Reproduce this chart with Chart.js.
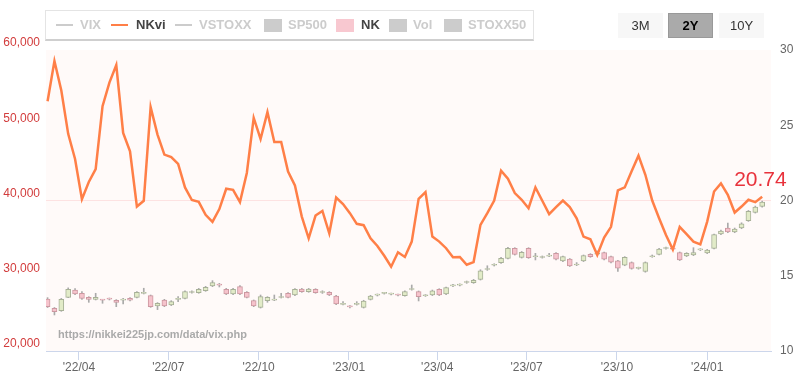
<!DOCTYPE html>
<html>
<head>
<meta charset="utf-8">
<script src="https://cdn.jsdelivr.net/npm/chart.js@4.4.1/dist/chart.umd.min.js"></script>
<style>
  body { margin: 0; background: #fff; font-family: Arial, "Liberation Sans", sans-serif; }
  #wrap { position: relative; width: 797px; height: 372px; overflow: hidden; }
  #chart { position: absolute; left: 0; top: 0; }
  .legend { position: absolute; left: 45px; top: 10px; width: 489px; height: 31px; box-sizing: border-box;
    background: #fff; border: 1px solid #e4e4e4; border-bottom: 2px solid #cfcfcf; }
  .legend span { position: absolute; }
  .txt { top: 0; line-height: 28px; font-size: 13px; font-weight: bold; color: #cccccc; white-space: nowrap; }
  .txt.on { color: #444; }
  .ln { top: 13px; height: 2px; width: 17px; background: #cccccc; }
  .bx { top: 8px; height: 13px; width: 18px; background: #cccccc; }
  .btn { position: absolute; top: 13px; width: 45px; height: 25px; line-height: 25px; text-align: center;
    font-size: 13px; color: #333; background: #f7f7f7; box-sizing: border-box; }
  .btn.sel { background: #aaaaaa; border: 1px solid #999; line-height: 23px; font-weight: bold; color: #000; }
</style>
</head>
<body>
<div id="wrap">
  <canvas id="chart" width="797" height="372"></canvas>
  <div class="legend">
    <span class="ln" style="left:10px"></span><span class="txt" style="left:34px">VIX</span>
    <span class="ln" style="left:65px;background:#ff7f47"></span><span class="txt on" style="left:90px">NKvi</span>
    <span class="ln" style="left:129px"></span><span class="txt" style="left:153px">VSTOXX</span>
    <span class="bx" style="left:218px"></span><span class="txt" style="left:242px">SP500</span>
    <span class="bx" style="left:290px;background:#f8c8d0"></span><span class="txt on" style="left:315px">NK</span>
    <span class="bx" style="left:343px"></span><span class="txt" style="left:367px">Vol</span>
    <span class="bx" style="left:398px"></span><span class="txt" style="left:422px">STOXX50</span>
  </div>
  <div class="btn" style="left:618px">3M</div>
  <div class="btn sel" style="left:668px">2Y</div>
  <div class="btn" style="left:719px">10Y</div>
</div>
<script>
// weekly data, first week starts 2022-02-28
const firstWeek = "2022-02-28";

const nkviValues = [
  26.6, 29.27, 27.31, 24.43, 22.76, 20.09, 21.23, 22.09, 26.27, 27.83,
  29.0, 24.49, 23.27, 19.6, 19.98, 26.2, 24.38, 23.05, 22.89, 22.43,
  20.87, 20.03, 19.91, 19.05, 18.58, 19.43, 20.78, 20.71, 19.89, 21.83,
  25.49, 24.09, 25.87, 23.89, 23.89, 21.93, 21.0, 18.93, 17.49, 19.0,
  19.31, 17.82, 20.2, 19.76, 19.16, 18.45, 18.36, 17.49, 16.98, 16.33,
  15.6, 16.56, 16.25, 17.27, 20.11, 20.56, 17.6, 17.27, 16.83, 16.23,
  16.25, 15.73, 15.91, 18.38, 19.16, 20.0, 21.98, 21.45, 20.49, 20.05,
  19.49, 20.87, 19.98, 19.09, 19.56, 20.0, 19.56, 18.82, 17.6, 17.42,
  16.38, 17.54, 18.25, 20.67, 20.87, 21.94, 22.98, 21.71, 20.0, 18.82,
  17.71, 16.74, 18.25, 17.76, 17.27, 17.09, 18.6, 20.6, 21.14, 20.38,
  19.2, 19.6, 20.05, 19.89, 20.25
];

const nkOpen = [
  26910, 25670, 25360, 27130, 28110, 27670, 27130, 26870, 26800, 26930,
  26740, 26760, 27000, 27130, 27650, 27360, 25980, 26780, 26120, 26850,
  27000, 27780, 27760, 28010, 28640, 28790, 28190, 27580, 28550, 27800,
  26690, 25800, 26690, 26760, 27110, 27670, 27440, 28230, 27890, 28190,
  27780, 27800, 27310, 26190, 25910, 26190, 25800, 26870, 27420, 27650,
  27560, 27460, 27360, 28170, 27890, 27340, 27440, 28190, 27580, 28660,
  28750, 29100, 29080, 29520, 30830, 31400, 31730, 32310, 33640, 32440,
  33640, 32520, 32430, 32610, 32990, 31970, 32200, 31430, 31970, 32850,
  32870, 33070, 32540, 31970, 31420, 31750, 30980, 30560, 32520, 32850,
  33620, 33580, 33070, 32630, 32760, 33440, 33030, 33640, 35550, 36340,
  35810, 36340, 37310, 38420, 39220
];
const nkClose = [
  25890, 25230, 26870, 28190, 27580, 27000, 26870, 27130, 26760, 26890,
  26470, 26800, 26740, 27800, 27690, 25890, 26340, 25980, 26560, 26890,
  27890, 27820, 28190, 28460, 29080, 28750, 27580, 28190, 27580, 27130,
  25980, 27220, 27130, 26800, 27150, 27130, 28190, 27890, 28230, 27760,
  27820, 27440, 26250, 26230, 25870, 26230, 26650, 27310, 27460, 27690,
  27600, 27420, 27890, 28210, 27220, 27380, 28010, 27440, 28420, 28700,
  28790, 29140, 29390, 30670, 30870, 31440, 32310, 33640, 32840, 33100,
  32400, 32560, 32470, 32650, 32200, 32540, 31320, 31470, 32670, 32540,
  32910, 32200, 31790, 31000, 32450, 30960, 31020, 31750, 32560, 33560,
  33660, 33540, 32110, 32980, 33070, 33480, 33420, 35460, 35940, 35810,
  36210, 36910, 38550, 39130, 39790
];
const nkHigh = [
  27090, 25780, 26990, 28390, 28280, 27890, 27220, 27670, 26870, 27040,
  26830, 27000, 27090, 27890, 28340, 27440, 26430, 26870, 26690, 27220,
  28010, 28010, 28320, 28590, 29350, 28990, 28320, 28320, 28680, 27890,
  26780, 27440, 27220, 27440, 27670, 27760, 28280, 28320, 28320, 28280,
  28010, 27890, 27400, 26560, 26030, 26560, 26740, 27400, 27580, 27800,
  27710, 27580, 27980, 28770, 27980, 27490, 28100, 28280, 28510, 28860,
  28930, 29300, 29520, 30800, 31330, 31600, 32440, 33770, 33730, 33230,
  33730, 32980, 32630, 32980, 33080, 32630, 32290, 31750, 32760, 32940,
  33290, 33160, 32630, 32060, 32540, 31840, 31150, 31840, 32760, 33650,
  33800, 33690, 33160, 33070, 33730, 33600, 33510, 35550, 36080, 37000,
  36340, 37040, 38680, 39260, 39920
];
const nkLow = [
  25780, 24790, 25270, 27090, 27490, 26870, 26470, 26780, 26340, 26780,
  25890, 26250, 26650, 27040, 27580, 25800, 25500, 25890, 26030, 26560,
  26910, 27670, 27670, 27930, 28550, 28510, 27490, 27490, 27490, 27040,
  25890, 25710, 26470, 26690, 27040, 27040, 27360, 27800, 27800, 27670,
  27650, 27360, 26160, 26120, 25710, 26100, 25710, 26780, 27310, 27560,
  27450, 27310, 27270, 28080, 26650, 27250, 27360, 27360, 27490, 28550,
  28640, 28990, 28990, 29430, 30710, 31290, 31640, 32220, 32750, 32350,
  32310, 32100, 32340, 32520, 32110, 31880, 31230, 31340, 31880, 32450,
  32760, 32110, 31700, 30560, 31330, 30870, 30870, 30470, 32450, 32760,
  33520, 33430, 32020, 32540, 32670, 33340, 32940, 33550, 35460, 35720,
  35720, 36250, 37220, 38330, 39130
];

const xTickDates = ["2022-04-01", "2022-07-01", "2022-10-01", "2023-01-01",
  "2023-04-01", "2023-07-01", "2023-10-01", "2024-01-01"];
const xTickLabels = ["'22/04", "'22/07", "'22/10", "'23/01", "'23/04", "'23/07", "'23/10", "'24/01"];
const lastLabel = "20.74";
const sourceText = "https://nikkei225jp.com/data/vix.php";

const DAY = 86400000;
const origin = Date.UTC(2022, 0, 1);
function dayNum(s) {
  const [y, m, d] = s.split("-").map(Number);
  return (Date.UTC(y, m - 1, d) - origin) / DAY;
}
const weekX = nkviValues.map((v, i) => dayNum(firstWeek) + 7 * i);

const upFill = "#e2ebc8", upLine = "#a7b097";
const downFill = "#f6c3cc", downLine = "#cc98a1";
const isUp = (i) => nkClose[i] >= nkOpen[i];

Chart.defaults.font.family = 'Arial, "Liberation Sans", sans-serif';

const plotBg = {
  id: "plotBg",
  beforeDraw(chart) {
    const { ctx, chartArea: a } = chart;
    ctx.save();
    ctx.fillStyle = "#fffaf9";
    ctx.fillRect(a.left, a.top, a.right - a.left, a.bottom - a.top);
    ctx.restore();
  },
  beforeDatasetsDraw(chart) {
    const { ctx, chartArea: a } = chart;
    ctx.save();
    ctx.fillStyle = "#aaaaaa";
    ctx.font = 'bold 11px Arial, "Liberation Sans", sans-serif';
    ctx.textBaseline = "middle";
    ctx.fillText(sourceText, a.left + 12, a.bottom - 16);
    ctx.restore();
  },
  afterDatasetsDraw(chart) {
    const meta = chart.getDatasetMeta(0);
    const p = meta.data[meta.data.length - 1];
    const ctx = chart.ctx;
    ctx.save();
    ctx.fillStyle = "#e8323c";
    ctx.font = '21px Arial, "Liberation Sans", sans-serif';
    ctx.textBaseline = "alphabetic";
    ctx.fillText(lastLabel, p.x - 28, p.y - 11);
    ctx.restore();
  }
};

new Chart(document.getElementById("chart"), {
  type: "line",
  data: {
    datasets: [
      {
        type: "line",
        label: "NKvi",
        yAxisID: "y2",
        data: weekX.map((x, i) => ({ x, y: nkviValues[i] })),
        borderColor: "#ff7f47",
        borderWidth: 2.5,
        pointRadius: 0,
        tension: 0,
        order: 0
      },
      {
        type: "bar",
        label: "NK",
        yAxisID: "y",
        data: weekX.map((x, i) => ({ x, y: [nkOpen[i], nkClose[i]] })),
        backgroundColor: (c) => (isUp(c.dataIndex) ? upFill : downFill),
        borderColor: (c) => (isUp(c.dataIndex) ? upLine : downLine),
        borderWidth: 1,
        borderSkipped: false,
        barThickness: 5,
        minBarLength: 1,
        grouped: false,
        order: 1
      },
      {
        type: "bar",
        label: "NK range",
        yAxisID: "y",
        data: weekX.map((x, i) => ({ x, y: [nkLow[i], nkHigh[i]] })),
        backgroundColor: "#aaaaaa",
        barThickness: 1,
        grouped: false,
        order: 2
      }
    ]
  },
  options: {
    responsive: false,
    animation: false,
    events: [],
    layout: { padding: { top: 50, left: 0, right: 0, bottom: 0 } },
    plugins: { legend: { display: false }, tooltip: { enabled: false } },
    scales: {
      x: {
        type: "linear",
        min: 56.4,
        max: 795,
        offset: false,
        afterFit(s) { s.height = 21; },
        afterBuildTicks(s) { s.ticks = xTickDates.map((d) => ({ value: dayNum(d) })); },
        ticks: {
          color: "#666",
          font: { size: 12 },
          padding: 0,
          maxRotation: 0,
          autoSkip: false,
          callback: (v, i) => xTickLabels[i]
        },
        grid: { drawOnChartArea: false, color: "#ccd6eb", tickLength: 9, offset: false },
        border: { color: "#ccd6eb" }
      },
      y: {
        position: "left",
        min: 20000,
        max: 60000,
        afterFit(s) { s.width = 46; },
        ticks: {
          stepSize: 10000,
          color: "#d23c3c",
          font: { size: 12 },
          padding: 6,
          labelOffset: -7,
          callback: (v) => v.toLocaleString("en-US")
        },
        grid: { display: false, drawTicks: false },
        border: { display: false }
      },
      y2: {
        position: "right",
        min: 10,
        max: 30,
        afterFit(s) { s.width = 26; },
        ticks: { stepSize: 5, color: "#666", font: { size: 12 }, padding: 9 },
        grid: {
          drawTicks: false,
          color: (c) => (c.tick && c.tick.value === 20 ? "#fde2e2" : "rgba(0,0,0,0)")
        },
        border: { display: false }
      }
    }
  },
  plugins: [plotBg]
});
</script>
</body>
</html>
